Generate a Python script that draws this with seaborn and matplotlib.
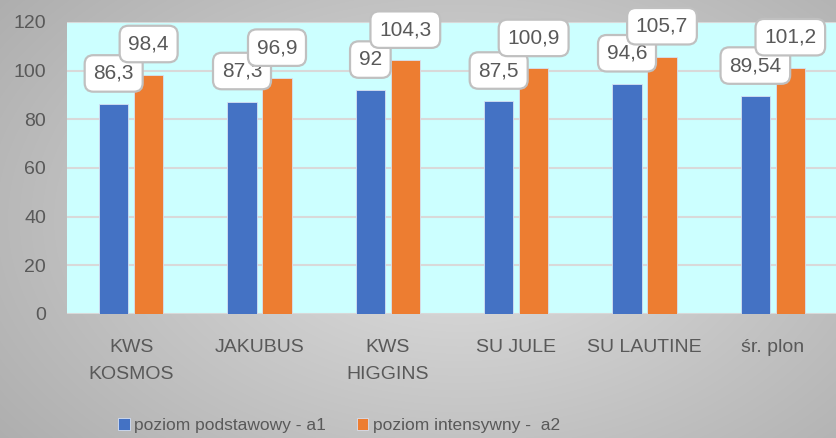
import numpy as np
import pandas as pd
import matplotlib
matplotlib.use('Agg')
import matplotlib.pyplot as plt
import seaborn as sns

categories = ['KWS\nKOSMOS', 'JAKUBUS', 'KWS\nHIGGINS', 'SU JULE', 'SU LAUTINE', 'śr. plon']
series_names = ['poziom podstawowy - a1', 'poziom intensywny -  a2']
a1_values = [86.3, 87.3, 92.0, 87.5, 94.6, 89.54]
a2_values = [98.4, 96.9, 104.3, 100.9, 105.7, 101.2]
y_ticks = [0, 20, 40, 60, 80, 100, 120]

colors = ['#4472C4', '#ED7D31']
text_color = '#595959'

sns.set_style('white')
plt.rcParams['font.family'] = ['Liberation Sans', 'DejaVu Sans']

df = pd.DataFrame({
    'kategoria': categories * 2,
    'seria': [series_names[0]] * len(categories) + [series_names[1]] * len(categories),
    'wartosc': a1_values + a2_values,
})

W, H = 837, 438
fig = plt.figure(figsize=(W / 100, H / 100), dpi=100)

# grey radial gradient background like the Excel chart area
bg = fig.add_axes([0, 0, 1, 1], zorder=-10)
yy, xx = np.mgrid[0:H, 0:W]
r = np.sqrt(((xx - W * 0.55) / (W * 0.7)) ** 2 + ((yy - H * 0.5) / (H * 0.85)) ** 2)
shade = 0.88 - 0.2 * np.clip(r, 0, 1.2)
bg.imshow(np.dstack([shade] * 3), aspect='auto', extent=[0, 1, 0, 1])
bg.axis('off')

ax = fig.add_axes([67 / W, (H - 314) / H, (837 - 67) / W, (314 - 22) / H])
ax.set_facecolor('#CCFFFF')

sns.barplot(data=df, x='kategoria', y='wartosc', hue='seria', palette=colors,
            saturation=1, width=0.545, gap=0.16, ax=ax, edgecolor='#d6e0f2',
            linewidth=0.6, legend=True)

ax.set_ylim(0, 120)
ax.set_yticks(y_ticks)
ax.set_xlim(-0.5, len(categories) - 0.5)
ax.grid(axis='y', color='#d9d9d9', linewidth=1.5)
ax.set_axisbelow(True)
for s in ax.spines.values():
    s.set_visible(False)
ax.tick_params(axis='both', length=0, labelsize=14, colors=text_color)
ax.tick_params(axis='x', pad=18)
ax.tick_params(axis='y', pad=15)
for lbl in ax.get_xticklabels():
    lbl.set_linespacing(1.75)
ax.set_xlabel('')
ax.set_ylabel('')

# data labels in rounded boxes, centred ~30 px above each bar
for container in ax.containers:
    for bar in container:
        h = bar.get_height()
        x = bar.get_x() + bar.get_width() / 2
        txt = f'{h:g}'.replace('.', ',')
        ax.annotate(txt, xy=(x, h), xytext=(0, 22), textcoords='offset points',
                    ha='center', va='center', fontsize=15, color=text_color,
                    bbox=dict(boxstyle='round,pad=0.42', fc='white', ec='#c0c0c0', lw=1.6),
                    annotation_clip=False)

handles, labels = ax.get_legend_handles_labels()
ax.legend_.remove()
fig.legend(handles, labels, loc='center', bbox_to_anchor=(0.405, 0.028), ncol=2,
           frameon=False, handlelength=0.65, handleheight=0.65,
           handletextpad=0.25, columnspacing=1.8, labelcolor=text_color,
           fontsize=12.5)

fig.savefig('out.png', dpi=100)
